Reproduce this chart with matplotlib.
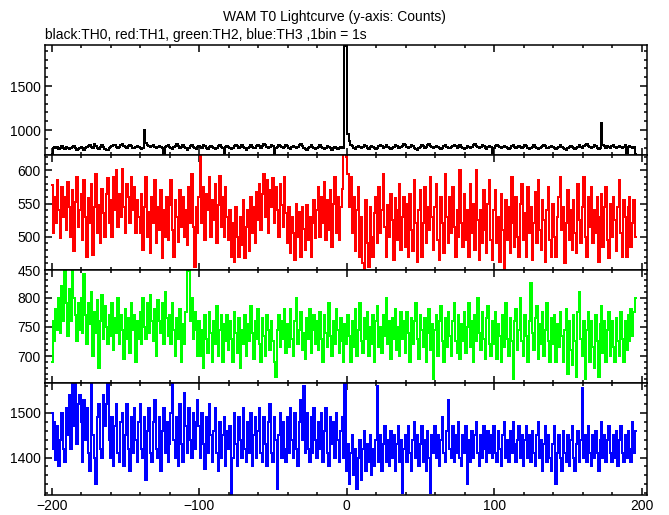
import numpy as np
import matplotlib
matplotlib.use('Agg')
import matplotlib.pyplot as plt
from matplotlib.ticker import MultipleLocator

plt.rcParams['font.family'] = ['Liberation Sans', 'DejaVu Sans']

# counts per 1 s bin, t = -200 ... 196
th0 = [730, 790, 805, 795, 812, 788, 801, 820, 798, 785, 810, 795, 780, 792, 805, 815, 790, 776, 785, 800,
       812, 796, 778, 790, 805, 820, 835, 810, 790, 845, 815, 798, 782, 805, 830, 812, 788, 770, 775, 792,
       805, 818, 832, 825, 810, 795, 812, 828, 840, 822, 806, 795, 813, 830, 818, 800, 790, 808, 822, 812,
       798, 785, 790, 1000, 855, 828, 815, 805, 822, 835, 812, 795, 808, 820, 810, 798, 730, 805, 818, 826,
       812, 798, 785, 805, 822, 840, 815, 795, 810, 828, 812, 790, 775, 800, 818, 832, 810, 795, 788, 805,
       820, 812, 795, 830, 815, 798, 786, 805, 822, 810, 795, 780, 800, 815, 826, 812, 790, 740, 805, 818,
       810, 795, 782, 800, 820, 835, 815, 798, 812, 826, 808, 792, 775, 790, 810, 825, 812, 795, 800, 818,
       832, 815, 800, 822, 840, 828, 812, 795, 805, 825, 815, 730, 790, 812, 835, 820, 805, 790, 812, 826,
       815, 798, 785, 806, 822, 812, 795, 808, 830, 845, 820, 800, 785, 770, 795, 812, 826, 808, 790, 782,
       798, 812, 825, 808, 792, 780, 800, 815, 805, 790, 778, 795, 810, 798, 785, 800, 812, 795, 790, 1960,
       1960, 960, 870, 832, 815, 800, 785, 805, 822, 810, 795, 812, 830, 818, 800, 788, 805, 820, 812, 796,
       785, 800, 818, 832, 815, 798, 810, 825, 812, 795, 780, 795, 812, 828, 815, 800, 790, 805, 822, 840,
       825, 810, 795, 812, 830, 815, 800, 785, 770, 792, 810, 826, 815, 798, 812, 830, 845, 822, 805, 790,
       808, 822, 810, 795, 780, 800, 815, 830, 812, 798, 790, 805, 820, 835, 818, 800, 812, 826, 810, 795,
       782, 800, 815, 808, 792, 810, 828, 845, 820, 805, 795, 812, 830, 815, 800, 788, 805, 818, 810, 740,
       800, 815, 830, 818, 802, 790, 808, 822, 812, 798, 785, 800, 815, 828, 812, 795, 808, 820, 805, 790,
       812, 826, 815, 800, 785, 798, 812, 825, 810, 795, 780, 792, 808, 820, 835, 815, 800, 790, 805, 818,
       806, 792, 780, 795, 810, 825, 812, 798, 785, 770, 790, 808, 822, 812, 795, 780, 792, 810, 826, 812,
       798, 815, 830, 845, 822, 805, 790, 812, 828, 815, 800, 786, 800, 1080, 830, 815, 800, 822, 812, 798,
       815, 828, 812, 795, 808, 822, 810, 796, 812, 826, 740, 805, 818, 808, 795, 812, 730]

th1 = [578, 505, 560, 520, 585, 540, 498, 575, 530, 560, 510, 583, 545, 500, 570, 478, 552, 590, 515, 540,
       565, 495, 585, 530, 470, 558, 520, 580, 472, 545, 595, 505, 548, 490, 572, 535, 500, 565, 588, 520,
       555, 500, 590, 540, 600, 515, 565, 530, 602, 545, 505, 580, 560, 520, 590, 540, 575, 505, 555, 530,
       505, 565, 480, 545, 590, 500, 538, 475, 560, 520, 585, 490, 545, 510, 570, 468, 540, 500, 560, 495,
       548, 585, 510, 470, 555, 530, 492, 570, 515, 560, 500, 540, 488, 575, 520, 595, 515, 455, 545, 505,
       560, 640, 520, 575, 495, 565, 540, 590, 500, 555, 525, 580, 490, 548, 592, 515, 560, 500, 575, 530,
       495, 540, 470, 520, 462, 545, 500, 470, 530, 488, 555, 468, 515, 540, 478, 560, 505, 545, 490, 568,
       525, 580, 510, 565, 595, 530, 585, 505, 570, 545, 588, 520, 575, 540, 500, 580, 548, 515, 590, 535,
       490, 545, 475, 530, 505, 465, 550, 500, 538, 470, 545, 512, 480, 548, 495, 530, 470, 520, 555, 498,
       540, 575, 500, 560, 520, 582, 495, 555, 510, 570, 485, 550, 590, 505, 560, 495, 545, 572, 640, 640,
       620, 595, 545, 590, 505, 560, 478, 540, 575, 470, 530, 460, 450, 555, 490, 455, 545, 500, 470, 535,
       560, 490, 575, 505, 540, 595, 515, 470, 548, 500, 565, 525, 465, 558, 495, 540, 580, 480, 530, 560,
       485, 550, 470, 565, 510, 478, 585, 520, 462, 540, 570, 470, 520, 575, 490, 545, 510, 590, 530, 480,
       545, 580, 495, 465, 560, 520, 475, 595, 530, 490, 560, 505, 575, 515, 470, 540, 500, 600, 520, 485,
       565, 495, 540, 470, 580, 505, 550, 480, 600, 525, 465, 540, 490, 570, 510, 475, 550, 585, 495, 465,
       540, 570, 490, 530, 462, 565, 510, 450, 555, 495, 545, 475, 590, 520, 485, 560, 500, 470, 550, 580,
       495, 535, 470, 575, 505, 545, 465, 520, 568, 490, 585, 510, 480, 555, 525, 462, 540, 575, 495, 470,
       550, 500, 470, 530, 560, 590, 510, 545, 460, 520, 570, 495, 540, 480, 555, 505, 475, 580, 525, 490,
       545, 590, 500, 470, 560, 515, 575, 490, 540, 505, 560, 462, 530, 565, 485, 545, 575, 495, 468, 550,
       500, 560, 525, 478, 545, 585, 505, 470, 555, 530, 470, 545, 560, 485, 520, 555, 500]

th2 = [690, 760, 725, 780, 745, 800, 740, 820, 760, 850, 790, 735, 815, 760, 850, 800, 770, 725, 790, 745,
       800, 740, 840, 770, 720, 790, 755, 810, 700, 775, 740, 795, 680, 760, 805, 730, 785, 750, 720, 770,
       735, 790, 710, 765, 740, 800, 720, 770, 745, 695, 780, 730, 765, 705, 790, 745, 770, 690, 760, 730,
       775, 720, 800, 750, 730, 790, 740, 805, 760, 725, 780, 700, 795, 760, 740, 790, 720, 810, 765, 735,
       770, 720, 790, 745, 700, 765, 730, 780, 690, 755, 720, 775, 850, 845, 760, 800, 730, 775, 745, 700,
       760, 700, 745, 680, 770, 730, 705, 775, 740, 690, 760, 720, 785, 700, 745, 770, 690, 755, 725, 770,
       710, 760, 730, 690, 775, 740, 705, 765, 680, 745, 720, 770, 700, 755, 725, 785, 740, 695, 760, 730,
       780, 720, 690, 765, 735, 700, 770, 745, 710, 760, 725, 690, 665, 745, 770, 715, 760, 730, 780, 705,
       755, 715, 780, 730, 700, 760, 800, 720, 745, 775, 710, 740, 695, 765, 730, 780, 705, 745, 770, 720,
       760, 710, 775, 730, 690, 770, 740, 715, 790, 735, 700, 760, 720, 780, 745, 705, 765, 725, 690, 755,
       720, 770, 735, 690, 760, 715, 780, 700, 745, 790, 725, 705, 765, 730, 775, 700, 750, 720, 770, 690,
       760, 785, 715, 750, 705, 770, 735, 800, 720, 760, 695, 765, 730, 780, 710, 750, 700, 775, 730, 760,
       705, 775, 740, 690, 765, 720, 760, 790, 730, 695, 770, 745, 715, 765, 690, 740, 780, 710, 755, 660,
       745, 770, 700, 760, 785, 725, 690, 765, 715, 775, 735, 700, 760, 790, 725, 705, 770, 695, 755, 725,
       775, 705, 750, 790, 715, 760, 690, 770, 725, 800, 740, 710, 775, 730, 695, 765, 785, 720, 700, 760,
       720, 775, 695, 755, 735, 690, 770, 715, 790, 730, 700, 765, 725, 660, 760, 780, 710, 745, 800, 725,
       700, 770, 735, 690, 760, 825, 740, 710, 765, 785, 695, 755, 720, 775, 700, 745, 790, 725, 690, 765,
       720, 770, 690, 755, 715, 775, 735, 690, 745, 780, 670, 760, 710, 685, 770, 725, 665, 775, 810, 730,
       700, 760, 660, 745, 775, 690, 760, 715, 680, 770, 725, 665, 755, 785, 705, 760, 690, 745, 775, 700,
       760, 715, 690, 765, 725, 700, 775, 730, 690, 760, 710, 770, 725, 780, 735, 775, 800]

th3 = [1500, 1420, 1480, 1395, 1470, 1380, 1440, 1500, 1420, 1390, 1510, 1450, 1540, 1420, 1570, 1470, 1570, 1430, 1520, 1540,
       1480, 1390, 1530, 1440, 1510, 1410, 1370, 1565, 1450, 1400, 1340, 1490, 1520, 1420, 1400, 1540, 1470, 1520, 1565, 1440,
       1400, 1490, 1380, 1470, 1520, 1410, 1390, 1480, 1500, 1380, 1450, 1520, 1420, 1370, 1490, 1410, 1510, 1440, 1390, 1480,
       1520, 1420, 1400, 1490, 1350, 1460, 1510, 1410, 1390, 1480, 1530, 1420, 1400, 1490, 1370, 1460, 1510, 1410, 1480, 1390,
       1430, 1500, 1565, 1440, 1400, 1490, 1380, 1520, 1430, 1390, 1545, 1470, 1410, 1510, 1440, 1400, 1500, 1420, 1480, 1530,
       1470, 1400, 1500, 1430, 1375, 1490, 1410, 1520, 1450, 1390, 1460, 1510, 1410, 1370, 1480, 1400, 1450, 1490, 1380, 1460,
       1420, 1470, 1310, 1400, 1500, 1430, 1380, 1490, 1440, 1400, 1510, 1420, 1390, 1480, 1410, 1500, 1380, 1450, 1490, 1400,
       1460, 1510, 1410, 1390, 1490, 1430, 1380, 1480, 1520, 1410, 1390, 1490, 1440, 1330, 1450, 1500, 1400, 1480, 1420, 1390,
       1490, 1410, 1510, 1440, 1400, 1500, 1420, 1380, 1480, 1530, 1440, 1560, 1410, 1500, 1420, 1390, 1490, 1410, 1510, 1440,
       1400, 1480, 1420, 1500, 1390, 1460, 1510, 1410, 1380, 1490, 1430, 1480, 1400, 1500, 1440, 1390, 1460, 1490, 1400, 1570,
       1370, 1430, 1340, 1410, 1450, 1360, 1420, 1330, 1400, 1440, 1350, 1420, 1460, 1370, 1430, 1390, 1450, 1360, 1420, 1380,
       1440, 1560, 1390, 1450, 1370, 1430, 1470, 1390, 1440, 1380, 1460, 1400, 1450, 1370, 1430, 1470, 1390, 1440, 1320, 1420,
       1450, 1390, 1470, 1410, 1370, 1440, 1480, 1400, 1450, 1380, 1430, 1470, 1390, 1440, 1370, 1460, 1400, 1320, 1450, 1410,
       1470, 1400, 1450, 1380, 1440, 1490, 1410, 1390, 1460, 1530, 1420, 1400, 1470, 1390, 1450, 1410, 1480, 1400, 1380, 1450,
       1410, 1470, 1340, 1440, 1390, 1460, 1400, 1450, 1480, 1410, 1380, 1450, 1400, 1470, 1420, 1390, 1460, 1410, 1450, 1400,
       1470, 1410, 1390, 1460, 1420, 1380, 1450, 1480, 1400, 1440, 1390, 1460, 1410, 1480, 1430, 1390, 1440, 1470, 1400, 1450,
       1380, 1440, 1470, 1400, 1450, 1390, 1460, 1410, 1380, 1450, 1480, 1400, 1440, 1370, 1430, 1470, 1390, 1450, 1400, 1370,
       1430, 1470, 1340, 1410, 1450, 1400, 1370, 1460, 1410, 1390, 1450, 1380, 1440, 1470, 1400, 1370, 1430, 1460, 1390, 1440,
       1555, 1400, 1450, 1390, 1470, 1410, 1380, 1450, 1400, 1460, 1410, 1370, 1440, 1480, 1400, 1450, 1390, 1440, 1470, 1410,
       1390, 1450, 1400, 1460, 1380, 1440, 1470, 1410, 1390, 1450, 1400, 1460, 1420, 1390, 1480, 1410, 1460]

series = [th0, th1, th2, th3]
colors = ['black', '#ff0000', '#00ff00', '#0000ff']
ylims = [(716, 1966), (450, 623), (654, 847), (1316, 1567)]
ymajor = [500, 50, 50, 100]
yminor = [100, 10, 10, 20]

W, H = 669, 515
left, right = 45, 647
edges = [45, 155, 270, 383, 495]

fig = plt.figure(figsize=(W / 100, H / 100), dpi=100)
for i in range(4):
    ax = fig.add_axes([left / W, 1 - edges[i + 1] / H, (right - left) / W,
                       (edges[i + 1] - edges[i]) / H])
    y = np.array(series[i])
    t = np.arange(len(y)) - 200
    ax.step(t, y, where='mid', color=colors[i], lw=1.3, antialiased=False)
    ax.set_xlim(-204.6, 203.7)
    ax.set_ylim(*ylims[i])
    ax.xaxis.set_major_locator(MultipleLocator(100))
    ax.xaxis.set_minor_locator(MultipleLocator(20))
    ax.yaxis.set_major_locator(MultipleLocator(ymajor[i]))
    ax.yaxis.set_minor_locator(MultipleLocator(yminor[i]))
    ax.tick_params(which='both', direction='in', top=True, right=True,
                   width=1.1, labelsize=10, pad=3)
    ax.tick_params(which='major', length=5)
    ax.tick_params(which='minor', length=2.5)
    if i < 3:
        ax.tick_params(labelbottom=False)
    for s in ax.spines.values():
        s.set_linewidth(1.1)

fig.text(0.5, 1 - 17 / H, 'WAM T0 Lightcurve (y-axis: Counts)', ha='center', va='center', fontsize=10)
fig.text(left / W, 1 - 35 / H, 'black:TH0, red:TH1, green:TH2, blue:TH3 ,1bin = 1s',
         ha='left', va='center', fontsize=10)

fig.savefig('out.png', dpi=100)
